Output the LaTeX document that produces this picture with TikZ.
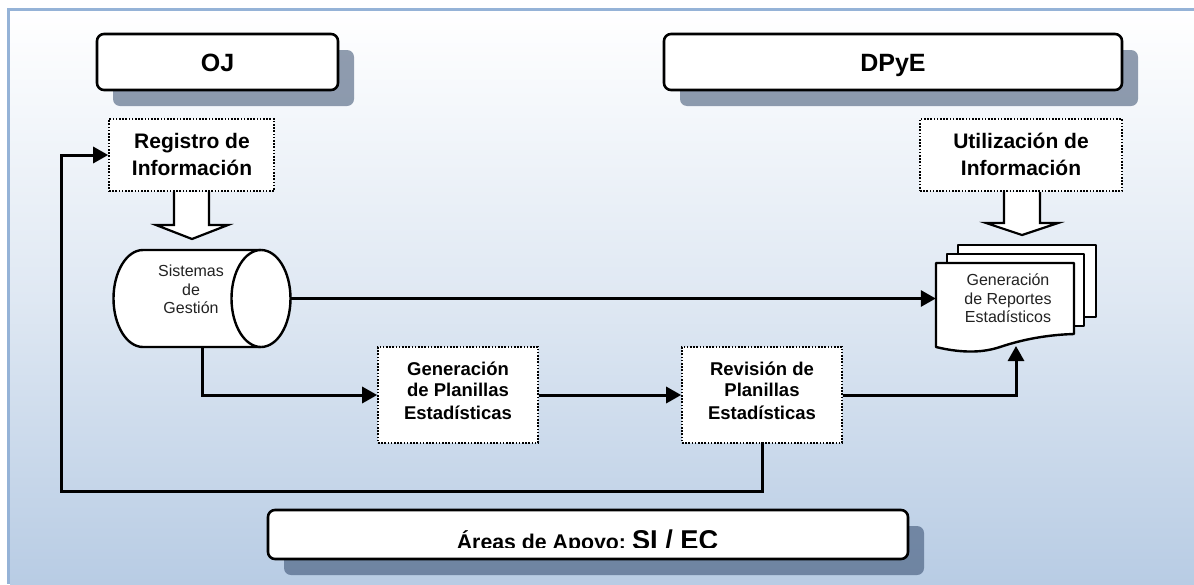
\documentclass[tikz,border=0pt]{standalone}
\usepackage{fontspec}
\setmainfont{Liberation Sans}
\usetikzlibrary{arrows.meta}
\definecolor{framec}{HTML}{95B3D7}
\definecolor{bgend}{HTML}{B8CCE4}
\definecolor{shadowc}{HTML}{253D61}
\definecolor{textc}{HTML}{222222}
\newcommand{\fs}[1]{\fontsize{#1}{#1}\selectfont}
\tikzset{
  x=1pt,y=-1pt,
  headbox/.style={draw=black,line width=2.6pt,fill=white,rounded corners=7pt,inner sep=0pt,align=center,font=\fs{25}\bfseries,text height=18pt,text depth=0pt},
  shadowbox/.style={fill=shadowc,fill opacity=.5,rounded corners=7pt},
  dotbox/.style={draw=black,line width=1.6pt,dash pattern=on 1.6pt off 1.6pt,fill=white,inner sep=0pt},
  solidshape/.style={draw=black,line width=2.4pt,fill=white,line join=round},
  conn/.style={draw=black,line width=3pt,line join=miter,-{Triangle[length=15pt,width=16pt]}},
  connplain/.style={draw=black,line width=3pt},
  blockarrow/.style={draw=black,line width=2.2pt,fill=white,line join=miter},
  boldtext/.style={font=\fs{21}\bfseries,anchor=base,inner sep=0pt},
  midbold/.style={font=\fs{18.5}\bfseries,anchor=base,inner sep=0pt},
  thintext/.style={font=\fs{16},text=textc,anchor=base,inner sep=0pt},
  phantomnode/.style={inner sep=0pt,draw=none}
}
\begin{document}
\begin{tikzpicture}
\useasboundingbox (0,0) rectangle (1194,584);
% background
\fill[white] (0,0) rectangle (1194,584);
\shade[top color=white,bottom color=bgend,middle color=white!55!bgend] (10,11) rectangle (1194,584);
\fill[framec] (7,8) rectangle (1194,11);
\fill[framec] (7,8) rectangle (10,584);
% shadows
\fill[shadowbox] (113,50) rectangle (354,106);
\fill[shadowbox] (680,50) rectangle (1138,106);
\fill[shadowbox] (284,526) rectangle (924,575);
% headers
\node[headbox,minimum width=241pt,minimum height=56pt] (oj) at (217.5,62) {OJ};
\node[headbox,minimum width=458pt,minimum height=56pt] (dpye) at (893,62) {DPyE};
\node[headbox,minimum width=640pt,minimum height=49pt] (apoyo) at (588,534.5) {};
\begin{scope}
  \clip (270,512) rectangle (906,547);
  \node[anchor=base,inner sep=0pt] (apoyotext) at (587.5,549) {\bfseries\fs{21.3}Áreas de Apoyo:\ \fs{27.2}SI / EC};
\end{scope}
% dotted boxes
\node[dotbox,minimum width=165pt,minimum height=72pt] (reg) at (191.5,155) {};
\node[boldtext] (regt1) at (192,148.5) {Registro de};
\node[boldtext] (regt2) at (192,175) {Información};
\node[dotbox,minimum width=202pt,minimum height=72pt] (uti) at (1021,155) {};
\node[boldtext] (utit1) at (1021,148.5) {Utilización de};
\node[boldtext] (utit2) at (1021,175) {Información};
\node[dotbox,minimum width=160pt,minimum height=96pt] (gen) at (458,395) {};
\node[midbold] (gent1) at (458,375.5) {Generación};
\node[midbold] (gent2) at (458,396) {de Planillas};
\node[midbold] (gent3) at (458,419) {Estadísticas};
\node[dotbox,minimum width=160pt,minimum height=96pt] (rev) at (762,395) {};
\node[midbold] (revt1) at (762,375.5) {Revisión de};
\node[midbold] (revt2) at (762,396) {Planillas};
\node[midbold] (revt3) at (762,419) {Estadísticas};
% block arrows
\draw[blockarrow] (174,192) -- (174,225) -- (156,225) -- (192,239) -- (228,225) -- (209,225) -- (209,192);
\draw[blockarrow] (1004,192) -- (1004,223) -- (986,223) -- (1022,235) -- (1058,223) -- (1040,223) -- (1040,192);
% cylinder
\node[phantomnode,minimum width=178pt,minimum height=97pt] (cyl) at (202,298.5) {};
\draw[solidshape] (143,250) -- (261,250)
  .. controls (277.3,250) and (290.5,271.7) .. (290.5,298.5)
  .. controls (290.5,325.3) and (277.3,347) .. (261,347)
  -- (143,347)
  .. controls (126.7,347) and (113.5,325.3) .. (113.5,298.5)
  .. controls (113.5,271.7) and (126.7,250) .. (143,250) -- cycle;
\draw[solidshape] (261,250)
  .. controls (244.7,250) and (231.5,271.7) .. (231.5,298.5)
  .. controls (231.5,325.3) and (244.7,347) .. (261,347);
\node[thintext] (cylt1) at (191,276) {Sistemas};
\node[thintext] (cylt2) at (191,295) {de};
\node[thintext] (cylt3) at (191,313) {Gestión};
% document stack
\draw[solidshape] (958,245) rectangle (1096,317);
\draw[solidshape] (947,254) rectangle (1084,326);
\node[phantomnode,minimum width=138pt,minimum height=89pt] (doc) at (1005,307.5) {};
\draw[solidshape] (936,263) -- (1074,263) -- (1074,334) .. controls (1040,335) and (1015,342) .. (1000,347) .. controls (985,352) and (965,354) .. (936,347) -- cycle;
\node[thintext] (doct1) at (1008,285) {Generación};
\node[thintext] (doct2) at (1008,304) {de Reportes};
\node[thintext] (doct3) at (1008,322) {Estadísticos};
% connectors
\coordinate (docin) at (1016,346);
\coordinate (fbk) at (61,491);
\draw[conn] (cyl.east) -- (cyl.east -| doc.west);
\draw[conn] (cyl.south) |- (gen.west);
\draw[conn] (gen.east) -- (rev.west);
\draw[conn] (rev.east) -| (docin);
\draw[connplain,line cap=rect] (rev.south) |- (fbk);
\draw[conn] (fbk) |- (reg.west);
\end{tikzpicture}
\end{document}
